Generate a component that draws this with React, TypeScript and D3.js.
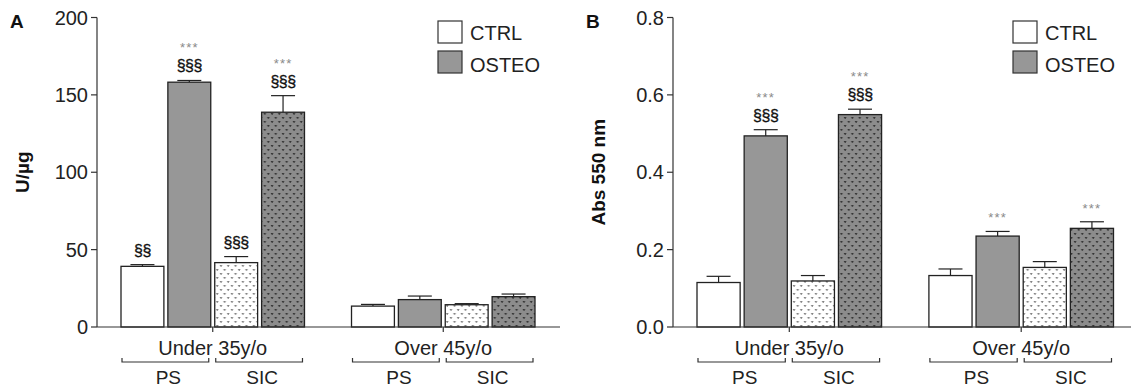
import React from 'react';
import * as d3 from 'd3';

const groups = ['Under 35y/o', 'Over 45y/o'];
const conditions = ['PS CTRL', 'PS OSTEO', 'SIC CTRL', 'SIC OSTEO'];
const tissues = ['PS', 'SIC'];

// Panel A: U/µg
const aUnder = [39.2, 158.2, 41.6, 138.8];
const aUnderErr = [1.1, 1.1, 3.9, 10.7];
const aOver = [13.5, 17.7, 14.4, 19.6];
const aOverErr = [1.1, 2.3, 0.7, 1.7];
const aTicks = [0, 50, 100, 150, 200];
const aStars = [[false, true, false, true], [false, false, false, false]];
const aSect = [['§§', '§§§', '§§§', '§§§'], ['', '', '', '']];

// Panel B: Abs 550 nm
const bUnder = [0.115, 0.494, 0.119, 0.549];
const bUnderErr = [0.016, 0.016, 0.014, 0.014];
const bOver = [0.133, 0.235, 0.154, 0.255];
const bOverErr = [0.017, 0.012, 0.015, 0.017];
const bTicks = [0, 0.2, 0.4, 0.6, 0.8];
const bStars = [[false, true, false, true], [false, true, false, true]];
const bSect = [['', '§§§', '', '§§§'], ['', '', '', '']];

const FONT = '"Liberation Sans", Arial, Helvetica, sans-serif';
const INK = '#222';
const GRAY = '#979797';
const fills = ['#fff', GRAY, 'url(#dotsLight)', 'url(#dotsDark)'];

interface PanelProps {
  letter: string;
  yLabel: string;
  axisX: number;
  axisEnd: number;
  barRange: [number, number];
  yMax: number;
  ticks: number[];
  fmt: (v: number) => string;
  means: number[][];
  errs: number[][];
  stars: boolean[][];
  sect: string[][];
  legendX: number;
}

const Panel: React.FC<PanelProps> = ({ letter, yLabel, axisX, axisEnd, barRange, yMax, ticks, fmt, means, errs, stars, sect, legendX }) => {
  const y = d3.scaleLinear().domain([0, yMax]).range([327, 17.5]);
  const outer = d3.scaleBand().domain(groups).range(barRange).paddingInner(0.204).paddingOuter(0);
  const inner = d3.scaleBand().domain(conditions).range([0, outer.bandwidth()]).paddingInner(0.085).paddingOuter(0);
  const bw = inner.bandwidth();
  const y0 = y(0);

  return (
    <g>
      <text x={axisX - 87} y={28} fontSize={19} fontWeight="bold" fontFamily={FONT} fill="#111">{letter}</text>
      <text transform={`translate(${axisX - 68},${(y(0) + y(yMax)) / 2}) rotate(-90)`} textAnchor="middle"
        fontSize={19} fontWeight="bold" fontFamily={FONT} fill="#111">{yLabel}</text>

      {/* y axis */}
      <line x1={axisX} x2={axisX} y1={y(yMax)} y2={y0} stroke="#333" strokeWidth={1.2} />
      {ticks.map(t => (
        <g key={t}>
          <line x1={axisX - 6} x2={axisX} y1={y(t)} y2={y(t)} stroke="#333" strokeWidth={1.2} />
          <text x={axisX - 9} y={y(t) + 7} textAnchor="end" fontSize={20} fontFamily={FONT} fill="#222">{fmt(t)}</text>
        </g>
      ))}

      {/* bars */}
      {groups.map((g, gi) => {
        const gx = outer(g) || 0;
        return (
          <g key={g}>
            {conditions.map((c, ci) => {
              const bx = gx + (inner(c) || 0);
              const v = means[gi][ci];
              const top = y(v + errs[gi][ci]);
              const cx = bx + bw / 2;
              const hasSect = sect[gi][ci] !== '';
              const sectY = top - 9;
              const starY = hasSect ? sectY - 22 : top - 12;
              return (
                <g key={c}>
                  <line x1={cx} x2={cx} y1={y(v)} y2={top} stroke={INK} strokeWidth={1.2} />
                  <line x1={cx - 12} x2={cx + 12} y1={top} y2={top} stroke={INK} strokeWidth={1.2} />
                  <rect x={bx} y={y(v)} width={bw} height={y0 - y(v)} fill={fills[ci]} stroke={INK} strokeWidth={1.3} />
                  {hasSect && (
                    <text x={cx} y={sectY} textAnchor="middle" fontSize={16} fontFamily={FONT} fill="#111"
                      stroke="#111" strokeWidth={0.35} letterSpacing={-0.5}>{sect[gi][ci]}</text>
                  )}
                  {stars[gi][ci] && (
                    <text x={cx} y={starY + 3} textAnchor="middle" fontSize={13} fontFamily={FONT} fill="#8a8a8a"
                      letterSpacing={1.2}>***</text>
                  )}
                </g>
              );
            })}
            {/* group tick + labels */}
            <line x1={gx + outer.bandwidth() / 2} x2={gx + outer.bandwidth() / 2} y1={y0} y2={y0 + 5} stroke="#333" strokeWidth={1.2} />
            <text x={gx + outer.bandwidth() / 2} y={355} textAnchor="middle" fontSize={20} fontFamily={FONT} fill="#222">{g}</text>
            {tissues.map((t, ti) => {
              const x1 = gx + (inner(conditions[ti * 2]) || 0) + 1;
              const x2 = gx + (inner(conditions[ti * 2 + 1]) || 0) + bw - 2;
              return (
                <g key={t}>
                  <path d={`M${x1},${358} V${362} H${x2} V${358}`} fill="none" stroke="#333" strokeWidth={1.2} />
                  <text x={(x1 + x2) / 2 + 3} y={384} textAnchor="middle" fontSize={19} fontFamily={FONT} fill="#222">{t}</text>
                </g>
              );
            })}
          </g>
        );
      })}

      {/* x axis */}
      <line x1={axisX} x2={axisEnd} y1={y0} y2={y0} stroke="#333" strokeWidth={1.2} />

      {/* legend */}
      {['CTRL', 'OSTEO'].map((l, i) => (
        <g key={l}>
          <rect x={legendX} y={21 + i * 30} width={24} height={22} fill={i === 0 ? '#fff' : GRAY} stroke="#333" strokeWidth={1.2} />
          <text x={legendX + 32} y={40 + i * 32} fontSize={20} fontFamily={FONT} fill="#222">{l}</text>
        </g>
      ))}
    </g>
  );
};

const App: React.FC = () => {
  return (
    <div style={{ position: 'absolute', left: 0, top: 0 }}>
      <svg width={1131} height={387} style={{ display: 'block', background: '#fff' }}>
        <defs>
          <pattern id="dotsLight" patternUnits="userSpaceOnUse" width={7.3} height={8}>
            <rect width={7.3} height={8} fill="#fff" />
            <path d="M0.5,1.3 h2.9 l-1.45,1.8z M4.15,5.3 h2.9 l-1.45,1.8z" fill="#5a5a5a" />
          </pattern>
          <pattern id="dotsDark" patternUnits="userSpaceOnUse" width={7.3} height={8}>
            <rect width={7.3} height={8} fill="#8c8c8c" />
            <path d="M0.5,1.3 h2.9 l-1.45,1.8z M4.15,5.3 h2.9 l-1.45,1.8z" fill="#1a1a1a" />
          </pattern>
        </defs>
        <Panel letter="A" yLabel="U/µg" axisX={97} axisEnd={560} barRange={[121, 535]} yMax={200} ticks={aTicks}
          fmt={v => String(v)} means={[aUnder, aOver]} errs={[aUnderErr, aOverErr]} stars={aStars} sect={aSect} legendX={438} />
        <Panel letter="B" yLabel="Abs 550 nm" axisX={673} axisEnd={1131} barRange={[697, 1113.5]} yMax={0.8} ticks={bTicks}
          fmt={v => v.toFixed(1)} means={[bUnder, bOver]} errs={[bUnderErr, bOverErr]} stars={bStars} sect={bSect} legendX={1013} />
      </svg>
    </div>
  );
};

export default App;
